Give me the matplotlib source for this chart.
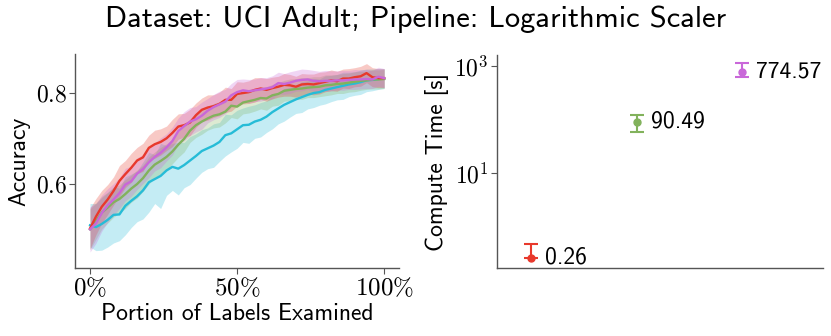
import numpy as np
import matplotlib
matplotlib.use("Agg")
import matplotlib.pyplot as plt
from matplotlib.ticker import FuncFormatter, FixedLocator, NullLocator

plt.rcParams['mathtext.fontset'] = 'cm'
plt.rcParams['font.family'] = ['cmss10', 'DejaVu Sans']

# portion of labels examined (fraction)
portion = np.linspace(0, 1, 51)

acc_cyan = [0.509, 0.505, 0.512, 0.521, 0.532, 0.533, 0.552, 0.563, 0.573, 0.586,
            0.604, 0.611, 0.618, 0.630, 0.638, 0.634, 0.642, 0.652, 0.662, 0.673,
            0.679, 0.685, 0.693, 0.708, 0.712, 0.721, 0.730, 0.731, 0.738, 0.742,
            0.749, 0.759, 0.767, 0.775, 0.781, 0.787, 0.792, 0.797, 0.801, 0.803,
            0.808, 0.811, 0.814, 0.817, 0.820, 0.822, 0.825, 0.829, 0.830, 0.832, 0.833]
acc_green = [0.500, 0.518, 0.537, 0.548, 0.560, 0.567, 0.578, 0.590, 0.600, 0.613,
             0.630, 0.643, 0.651, 0.660, 0.672, 0.687, 0.700, 0.718, 0.730, 0.738,
             0.745, 0.751, 0.754, 0.760, 0.773, 0.771, 0.780, 0.783, 0.786, 0.790,
             0.789, 0.796, 0.799, 0.806, 0.808, 0.810, 0.811, 0.813, 0.814, 0.815,
             0.818, 0.819, 0.821, 0.822, 0.824, 0.826, 0.828, 0.829, 0.831, 0.831, 0.832]
acc_red = [0.502, 0.528, 0.550, 0.566, 0.585, 0.607, 0.622, 0.636, 0.652, 0.659,
           0.680, 0.688, 0.693, 0.701, 0.713, 0.727, 0.730, 0.736, 0.752, 0.764,
           0.769, 0.772, 0.777, 0.786, 0.786, 0.799, 0.801, 0.803, 0.808, 0.811,
           0.808, 0.812, 0.815, 0.819, 0.818, 0.815, 0.820, 0.821, 0.820, 0.823,
           0.826, 0.829, 0.827, 0.833, 0.833, 0.836, 0.838, 0.845, 0.836, 0.834, 0.834]
acc_purple = [0.500, 0.513, 0.536, 0.553, 0.566, 0.580, 0.599, 0.606, 0.623, 0.633,
              0.648, 0.660, 0.669, 0.681, 0.695, 0.717, 0.728, 0.738, 0.743, 0.751,
              0.762, 0.770, 0.776, 0.782, 0.796, 0.803, 0.807, 0.805, 0.807, 0.809,
              0.811, 0.814, 0.823, 0.821, 0.824, 0.828, 0.830, 0.831, 0.828, 0.827,
              0.828, 0.828, 0.829, 0.829, 0.830, 0.831, 0.831, 0.832, 0.831, 0.837, 0.834]

std_cyan = [0.048, 0.052, 0.058, 0.060, 0.062, 0.058, 0.064, 0.059, 0.056, 0.063,
            0.066, 0.054, 0.072, 0.055, 0.052, 0.058, 0.050, 0.053, 0.049, 0.047,
            0.045, 0.048, 0.043, 0.046, 0.041, 0.042, 0.038, 0.041, 0.037, 0.038,
            0.035, 0.037, 0.034, 0.036, 0.033, 0.031, 0.034, 0.031, 0.032, 0.029,
            0.031, 0.029, 0.028, 0.030, 0.027, 0.026, 0.027, 0.025, 0.024, 0.023, 0.022]
std_green = [0.045, 0.040, 0.036, 0.034, 0.033, 0.031, 0.032, 0.030, 0.031, 0.029,
             0.030, 0.028, 0.030, 0.029, 0.027, 0.028, 0.029, 0.026, 0.027, 0.028,
             0.026, 0.027, 0.028, 0.025, 0.026, 0.027, 0.025, 0.026, 0.025, 0.024,
             0.026, 0.024, 0.025, 0.023, 0.024, 0.023, 0.024, 0.022, 0.023, 0.022,
             0.023, 0.022, 0.021, 0.022, 0.021, 0.022, 0.021, 0.020, 0.021, 0.021, 0.021]
std_red = [0.045, 0.040, 0.036, 0.033, 0.031, 0.034, 0.030, 0.032, 0.029, 0.031,
           0.028, 0.031, 0.029, 0.027, 0.030, 0.028, 0.026, 0.029, 0.027, 0.026,
           0.028, 0.025, 0.026, 0.028, 0.025, 0.027, 0.024, 0.025, 0.027, 0.024,
           0.025, 0.024, 0.023, 0.025, 0.024, 0.023, 0.024, 0.022, 0.023, 0.024,
           0.022, 0.023, 0.022, 0.021, 0.022, 0.021, 0.022, 0.021, 0.021, 0.021, 0.021]
std_purple = [0.050, 0.044, 0.040, 0.037, 0.035, 0.034, 0.036, 0.033, 0.035, 0.032,
              0.034, 0.031, 0.033, 0.030, 0.031, 0.029, 0.032, 0.031, 0.028, 0.030,
              0.027, 0.028, 0.029, 0.027, 0.026, 0.028, 0.025, 0.026, 0.025, 0.026,
              0.024, 0.025, 0.024, 0.023, 0.024, 0.023, 0.024, 0.022, 0.023, 0.022,
              0.023, 0.022, 0.021, 0.022, 0.021, 0.022, 0.021, 0.021, 0.020, 0.021, 0.021]

# compute times
time_vals = [0.26, 90.49, 774.57]
time_err_lo = [0.005, 32, 155]
time_err_hi = [0.21, 31, 335]

c_red = '#e8392c'
c_green = '#82b25c'
c_cyan = '#26bcd7'
c_purple = '#c967d9'

fig = plt.figure(figsize=(8.31, 3.36), dpi=100)
ax1 = fig.add_axes([0.0903, 0.2015, 0.3897, 0.6375])
ax2 = fig.add_axes([0.598, 0.2015, 0.392, 0.6345])

series = [(acc_cyan, std_cyan, c_cyan),
          (acc_green, std_green, c_green),
          (acc_red, std_red, c_red),
          (acc_purple, std_purple, c_purple)]
for acc, sd, col in series:
    acc = np.array(acc)
    sd = np.array(sd)
    ax1.fill_between(portion, acc - sd, acc + sd, color=col, alpha=0.27, linewidth=0)
for acc, sd, col in series:
    ax1.plot(portion, acc, color=col, linewidth=1.7)

ax1.set_xlim(-0.051, 1.05)
ax1.set_ylim(0.414, 0.887)
ax1.xaxis.set_major_locator(FixedLocator([0, 0.5, 1.0]))
ax1.xaxis.set_major_formatter(FuncFormatter(lambda v, p: r'$%d\%%$' % round(v * 100)))
ax1.yaxis.set_major_locator(FixedLocator([0.6, 0.8]))
ax1.yaxis.set_major_formatter(FuncFormatter(lambda v, p: r'$%.1f$' % v))
ax1.set_xlabel('Portion of Labels Examined', fontsize=17, labelpad=2)
ax1.set_ylabel('Accuracy', fontsize=17, labelpad=4)

ax2.set_yscale('log')
cols = [c_red, c_green, c_purple]
for i, (v, lo, hi, col) in enumerate(zip(time_vals, time_err_lo, time_err_hi, cols)):
    ax2.errorbar([i], [v], yerr=[[lo], [hi]], fmt='o', color=col, markersize=5,
                 capsize=5, elinewidth=1.5, capthick=1.5)
    ax2.text(i + 0.13, v, '%.2f' % v, fontsize=17, va='center', ha='left')
ax2.set_xlim(-0.327, 2.76)
ax2.set_ylim(0.166, 1590)
ax2.xaxis.set_major_locator(NullLocator())
ax2.yaxis.set_major_locator(FixedLocator([10, 1000]))
ax2.yaxis.set_minor_locator(NullLocator())
ax2.yaxis.set_major_formatter(FuncFormatter(lambda v, p: r'$10^{%d}$' % round(np.log10(v))))
ax2.set_ylabel('Compute Time [s]', fontsize=17, labelpad=4)

for ax in (ax1, ax2):
    for s in ('top', 'right'):
        ax.spines[s].set_visible(False)
    for s in ('left', 'bottom'):
        ax.spines[s].set_color('#555555')
        ax.spines[s].set_linewidth(1.0)
    ax.tick_params(labelsize=17, color='#555555', length=4, width=0.8, pad=2)
ax1.tick_params(axis='x', labelsize=18)

fig.suptitle('Dataset: UCI Adult; Pipeline: Logarithmic Scaler', fontsize=22, y=0.985)

fig.savefig('out.png', dpi=100)
